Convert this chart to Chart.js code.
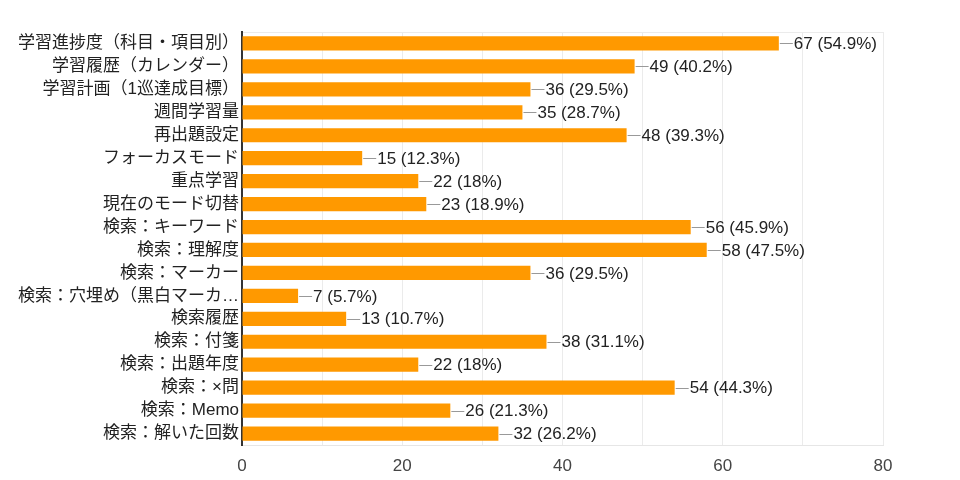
<!DOCTYPE html>
<html>
<head>
<meta charset="utf-8">
<script src="https://cdn.jsdelivr.net/npm/chart.js@4.4.1/dist/chart.umd.min.js"></script>
<style>
  html, body { margin: 0; padding: 0; background: #fff; }
  #wrap { width: 960px; height: 480px; }
</style>
</head>
<body>
<div id="wrap"><canvas id="myBarChart"></canvas></div>
<script>
var categories = [
    "学習進捗度（科目・項目別）",
    "学習履歴（カレンダー）",
    "学習計画（1巡達成目標）",
    "週間学習量",
    "再出題設定",
    "フォーカスモード",
    "重点学習",
    "現在のモード切替",
    "検索：キーワード",
    "検索：理解度",
    "検索：マーカー",
    "検索：穴埋め（黒白マーカ…",
    "検索履歴",
    "検索：付箋",
    "検索：出題年度",
    "検索：×問",
    "検索：Memo",
    "検索：解いた回数"
];
var counts = [67, 49, 36, 35, 48, 15, 22, 23, 56, 58, 36, 7, 13, 38, 22, 54, 26, 32];
var percents = ["54.9%", "40.2%", "29.5%", "28.7%", "39.3%", "12.3%", "18%", "18.9%", "45.9%",
                "47.5%", "29.5%", "5.7%", "10.7%", "31.1%", "18%", "44.3%", "21.3%", "26.2%"];
var xTicks = [0, 20, 40, 60, 80];

var FONT = "'Liberation Sans', 'Noto Sans CJK JP', Arial, sans-serif";

// value labels with a short leader line at the end of each bar
var barLabels = {
    id: 'barLabels',
    afterDatasetsDraw: function(chart){
        var ctx = chart.ctx;
        var meta = chart.getDatasetMeta(0);
        ctx.save();
        ctx.font = "17px " + FONT;
        ctx.textBaseline = 'middle';
        ctx.textAlign = 'left';
        meta.data.forEach(function(bar, i){
            var x = bar.x, y = bar.y;
            ctx.strokeStyle = '#999999';
            ctx.lineWidth = 1;
            ctx.beginPath();
            ctx.moveTo(x + 1, Math.round(y) + 0.5);
            ctx.lineTo(x + 14, Math.round(y) + 0.5);
            ctx.stroke();
            ctx.fillStyle = '#222222';
            ctx.fillText(counts[i] + " (" + percents[i] + ")", x + 15, y + 1);
        });
        ctx.restore();
    }
};

var ctx1 = document.getElementById("myBarChart");
var myBarChart = new Chart(ctx1, {
    type: 'bar',
    data: {
        labels: categories,
        datasets: [{
            data: counts,
            backgroundColor: '#ff9900',
            borderWidth: 0,
            categoryPercentage: 0.62,
            barPercentage: 1
        }]
    },
    plugins: [barLabels],
    options: {
        indexAxis: 'y',
        responsive: true,
        maintainAspectRatio: false,
        animation: false,
        layout: { padding: { top: 32, right: 77, bottom: 0, left: 0 } },
        plugins: {
            legend: { display: false },
            tooltip: { enabled: false }
        },
        scales: {
            x: {
                min: 0,
                max: 80,
                afterFit: function(scale){ scale.height = 35; },
                ticks: {
                    stepSize: 10,
                    padding: 11,
                    color: '#444444',
                    font: { size: 17, family: FONT },
                    callback: function(value){
                        return xTicks.indexOf(value) >= 0 ? value : '';
                    }
                },
                grid: {
                    color: '#ebebeb',
                    drawTicks: false
                },
                border: { display: true, color: '#e6e6e6' }
            },
            y: {
                afterFit: function(scale){ scale.width = 242; },
                ticks: {
                    padding: 3,
                    color: '#222222',
                    autoSkip: false,
                    font: { size: 17, family: FONT }
                },
                grid: {
                    drawTicks: false,
                    color: function(c){
                        return (c.index === 0) ? '#ebebeb' : 'rgba(0,0,0,0)';
                    }
                },
                border: { display: true, color: '#333333', width: 2 }
            }
        }
    }
});
</script>
</body>
</html>
